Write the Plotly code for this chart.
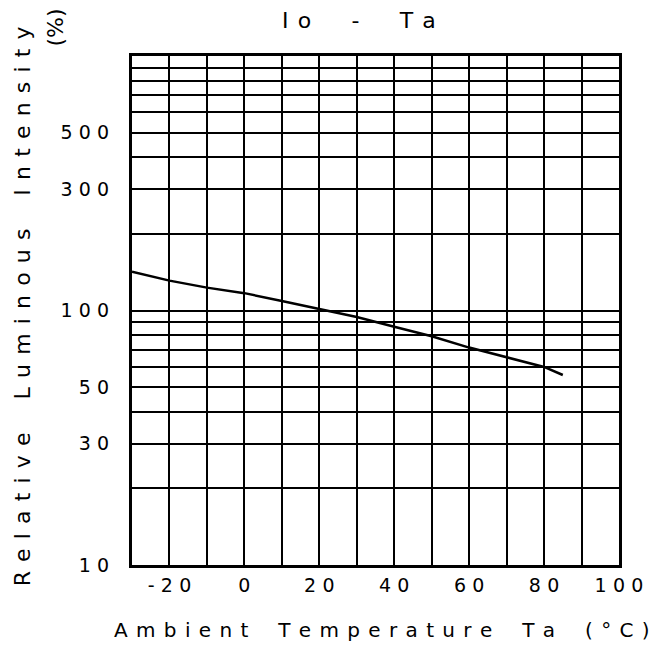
import plotly.graph_objects as go

# ---- data ----
temperature_c = [-30, -20, -10, 0, 10, 20, 30, 40, 50, 60, 70, 80, 85]
relative_intensity_pct = [142, 131, 123, 117, 109, 101.5, 94.3, 86.3, 79.2, 71.5, 65.3, 60, 55.8]

x_grid_vals = [-30, -20, -10, 0, 10, 20, 30, 40, 50, 60, 70, 80, 90, 100]
x_label_vals = [-20, 0, 20, 40, 60, 80, 100]
x_label_text = ["-20", "0", "20", "40", "60", "80", "100"]

y_grid_vals = [10, 20, 30, 40, 50, 60, 70, 80, 90, 100, 200, 300, 400, 500, 600, 700, 800, 900, 1000]
y_label_vals = [10, 30, 50, 100, 300, 500]
y_label_text = ["10", "30", "50", "100", "300", "500"]

title_text = "Io - Ta"
x_title_text = "Ambient Temperature Ta (°C)"
y_title_text = "Relative Luminous Intensity"
y_unit_text = "(%)"


def spaced(s, sp="\u2005\u2006", word="\u2002"):
    words = s.split(" ")
    return (sp + word + sp).join(sp.join(list(w)) for w in words)


def digits(s):
    return "\u2004".join(list(s))


x_ticktext = [digits(x_label_text[x_label_vals.index(v)]) if v in x_label_vals else "" for v in x_grid_vals]
y_ticktext = [digits(y_label_text[y_label_vals.index(v)]) if v in y_label_vals else "" for v in y_grid_vals]

FONT = "DejaVu Sans"

fig = go.Figure()
fig.add_trace(go.Scatter(
    x=temperature_c, y=relative_intensity_pct, mode="lines",
    line=dict(color="black", width=2.5), showlegend=False, hoverinfo="skip"))

fig.update_layout(
    width=655, height=646,
    margin=dict(l=132, r=32, t=56, b=81),
    paper_bgcolor="white", plot_bgcolor="white",
    font=dict(family=FONT, color="black", size=19),
)

fig.update_xaxes(
    range=[-30, 100], tickmode="array", tickvals=x_grid_vals, ticktext=x_ticktext,
    showgrid=True, gridcolor="black", gridwidth=2,
    showline=True, linecolor="black", linewidth=3, mirror=True,
    ticks="", ticklabelstandoff=1, zeroline=False,
    tickfont=dict(family=FONT, size=19, color="black"),
)
fig.update_yaxes(
    type="log", range=[1, 3], tickmode="array", tickvals=y_grid_vals, ticktext=y_ticktext,
    showgrid=True, gridcolor="black", gridwidth=2,
    showline=True, linecolor="black", linewidth=3, mirror=True,
    ticks="", ticklabelstandoff=16, zeroline=False,
    tickfont=dict(family=FONT, size=19, color="black"),
)

fig.add_annotation(text=spaced(title_text, word="\u2003"), xref="paper", yref="paper",
                   x=0.466, y=1.0707, xanchor="center", yanchor="middle", showarrow=False,
                   font=dict(family=FONT, size=22, color="black"))
fig.add_annotation(text=spaced(x_title_text, sp="\u2005\u2006", word="\u2002\u2006"), xref="paper", yref="paper",
                   x=0.513, y=-0.1277, xanchor="center", yanchor="middle", showarrow=False,
                   font=dict(family=FONT, size=20, color="black"))
fig.add_annotation(text=spaced(y_title_text, sp="\u2005\u2006", word="\u2002\u2006"), xref="paper", yref="paper",
                   x=-0.226, y=0.508, xanchor="center", yanchor="middle", showarrow=False,
                   textangle=-90, font=dict(family=FONT, size=22, color="black"))
fig.add_annotation(text=y_unit_text, xref="paper", yref="paper",
                   x=-0.159, y=1.055, xanchor="center", yanchor="middle", showarrow=False,
                   textangle=-90, font=dict(family=FONT, size=22, color="black"))

fig.write_html("out.html", config={"displayModeBar": False},
               post_script="document.body.style.margin='0px';")
